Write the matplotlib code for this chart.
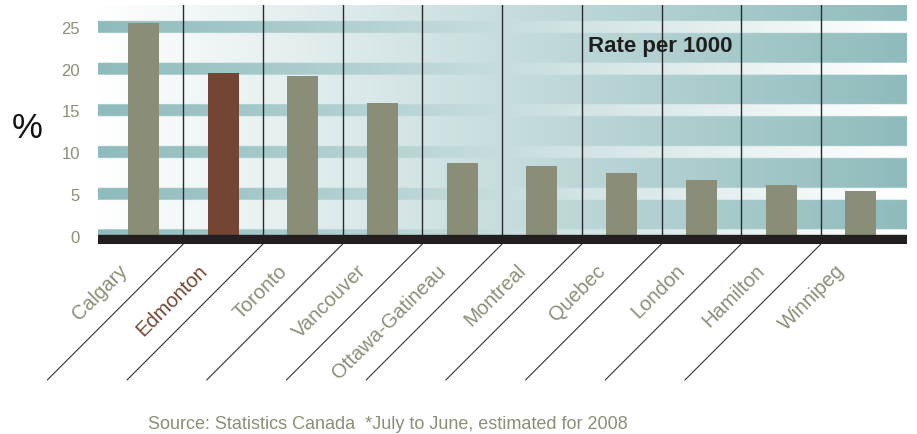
import matplotlib.pyplot as plt
import numpy as np
from matplotlib import transforms

plt.rcParams['font.family'] = ['Liberation Sans', 'DejaVu Sans']

cities = ['Calgary', 'Edmonton', 'Toronto', 'Vancouver', 'Ottawa-Gatineau',
          'Montreal', 'Quebec', 'London', 'Hamilton', 'Winnipeg']
rates = [25.4, 19.5, 19.1, 15.9, 8.7, 8.3, 7.5, 6.6, 6.1, 5.4]
yticks = [0, 5, 10, 15, 20, 25]
highlight = 'Edmonton'

bar_col = '#8a8e78'
hi_col = '#744535'
txt_col = '#8a8f78'
teal = np.array([0x8f, 0xbb, 0xbc]) / 255.
white = np.array([1.0, 1.0, 1.0])

fig = plt.figure(figsize=(9.17, 4.35), dpi=100)
ax = fig.add_axes([98/917, 1-245/435, 809/917, 239/435])

xlim = (-0.57, len(cities) - 0.42)
ylim = (-1.0, 27.6)

# background: white->teal gradient, bands at ticks go the other way
ny, nx = 600, 400
yy = np.linspace(ylim[0], ylim[1], ny)
t = np.linspace(0, 1, nx)
bg = white[None, :] * (1 - t[:, None]) + teal[None, :] * t[:, None]
band = teal[None, :] * (1 - t[:, None]) + white[None, :] * t[:, None]
img = np.zeros((ny, nx, 3))
for i, y in enumerate(yy):
    inband = any(abs(y - v) <= 0.72 for v in yticks)
    img[i] = band if inband else bg
ax.imshow(img, extent=(xlim[0], xlim[1], ylim[0], ylim[1]), origin='lower',
          aspect='auto', zorder=0, interpolation='bilinear')

x = np.arange(len(cities))
colors = [hi_col if c == highlight else bar_col for c in cities]
ax.bar(x, rates, width=0.39, color=colors, zorder=2)

for xv in x[:-1] + 0.5:
    ax.axvline(xv, color='#2a2a2a', lw=1, zorder=3)
    ax.annotate('', xy=(xv, ylim[0]), xycoords='data',
                xytext=(-136, -136), textcoords='offset pixels',
                arrowprops=dict(arrowstyle='-', color='#333333', lw=0.8,
                                shrinkA=0, shrinkB=0),
                annotation_clip=False)

ax.axhspan(ylim[0], 0.1, color='#231f20', zorder=4)

ax.set_xlim(xlim)
ax.set_ylim(ylim)
ax.set_yticks(yticks)
ax.set_yticklabels([str(v) for v in yticks], color=txt_col, fontsize=12)
ax.tick_params(axis='y', length=0, pad=13)
ax.set_xticks([])
for s in ax.spines.values():
    s.set_visible(False)

lab_tr = transforms.offset_copy(ax.get_xaxis_transform(), fig=fig,
                                x=-19, y=-23, units='dots')
for xi, c in zip(x, cities):
    ax.text(xi, 0, c, transform=lab_tr, rotation=45, rotation_mode='anchor',
            ha='right', va='center', fontsize=14.5,
            color=hi_col if c == highlight else txt_col)

ax.text(0.606, 0.83, 'Rate per 1000', transform=ax.transAxes, fontsize=16,
        fontweight='bold', color='#1e1e1e', va='center', ha='left', zorder=5)

fig.text(27/917, 1-128/435, '%', fontsize=25, ha='center', va='center',
         color='#111111')
fig.text(388/917, 1-425/435,
         'Source: Statistics Canada  *July to June, estimated for 2008',
         fontsize=13, color=txt_col, ha='center', va='center')

fig.savefig('out.png', dpi=100)
